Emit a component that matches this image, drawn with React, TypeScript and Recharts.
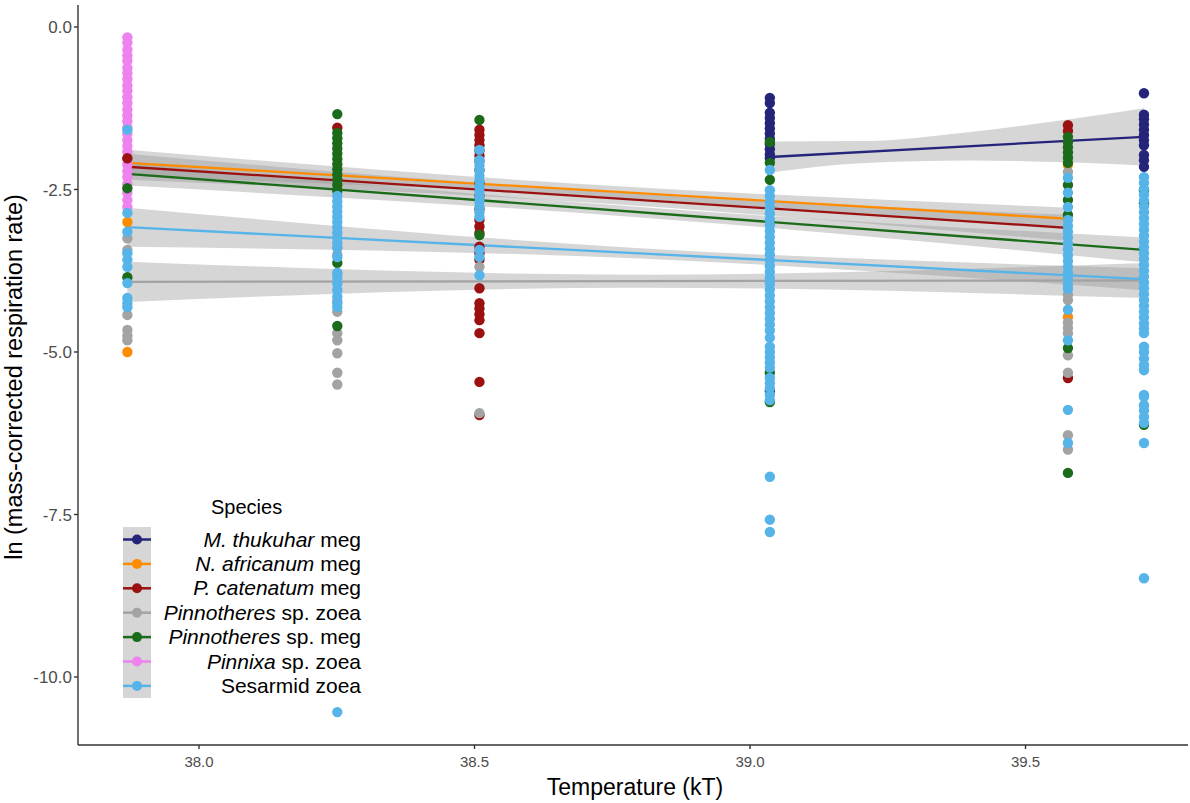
import { ComposedChart, Scatter, Line, Area, XAxis, YAxis } from "recharts";

// temperature columns (kT) where the measurements sit
const tempCols = [37.87, 38.251, 38.509, 39.036, 39.577, 39.715];

// ln respiration values per species, one list per temperature column
const thukuharY = [[], [], [], [-1.09, -1.17, -1.32, -1.4, -1.48, -1.56, -1.64, -1.72, -1.8, -1.88, -1.96, -2.02, -5.6], [], [-1.02, -1.35, -1.42, -1.5, -1.58, -1.66, -1.74, -1.82, -1.97, -2.05, -2.15]];
const africanumY = [[-3.0, -5.0], [], [], [], [-2.12, -4.46], []];
const catenatumY = [[-2.02], [-1.55], [-1.58, -1.66, -1.74, -1.82, -1.9, -1.98, -2.06, -2.2, -2.4, -2.6, -2.8, -2.97, -3.07, -3.17, -3.38, -3.48, -3.58, -4.02, -4.25, -4.33, -4.42, -4.51, -4.71, -5.46, -5.97], [], [-1.51, -1.6, -5.4], []];
const pinnoZoeaY = [[-3.25, -3.43, -4.43, -4.66, -4.75, -4.82], [-2.55, -3.38, -3.5, -3.8, -4.22, -4.38, -4.71, -4.82, -5.02, -5.32, -5.5], [-3.69, -5.94], [], [-2.23, -4.12, -4.2, -4.55, -4.63, -4.71, -5.05, -5.32, -6.28, -6.5], []];
const pinnoMegY = [[-2.48, -3.85], [-1.34, -1.63, -1.71, -1.79, -1.87, -1.95, -2.03, -2.11, -2.19, -2.27, -2.35, -2.43, -2.51, -3.63, -4.6], [-1.43, -3.2], [-1.77, -2.09, -2.35, -5.32, -5.77], [-1.69, -1.77, -1.85, -1.93, -2.01, -2.09, -2.43, -2.66, -2.89, -4.94, -6.86], [-2.51, -2.71, -6.12]];
const pinnixaY = [[-0.16, -0.24, -0.35, -0.44, -0.52, -0.63, -0.71, -0.8, -0.9, -0.98, -1.08, -1.17, -1.27, -1.36, -1.45, -1.55, -1.64, -1.74, -1.83, -1.92, -2.03, -2.12, -2.22, -2.31, -2.42, -2.55, -2.66, -2.77], [], [], [], [], []];
const sesarmidY = [
  [-1.58, -2.86, -3.15, -3.48, -3.58, -3.69, -3.94, -4.17, -4.25, -4.31],
  [-2.6, -2.68, -2.76, -2.84, -2.92, -3.0, -3.08, -3.16, -3.24, -3.32, -3.4, -3.54, -3.78, -3.86, -3.95, -4.05, -4.15, -4.25, -4.31, -10.54],
  [-1.89, -2.05, -2.13, -2.21, -2.29, -2.37, -2.45, -2.53, -2.61, -2.69, -2.77, -2.85, -2.92, -3.43, -3.54, -3.82],
  [-2.2, -2.51, -2.6, -2.69, -2.78, -2.87, -2.96, -3.05, -3.14, -3.23, -3.32, -3.41, -3.5, -3.59, -3.68, -3.77, -3.86, -3.95, -4.04, -4.13, -4.22, -4.31, -4.4, -4.49, -4.58, -4.67, -4.78, -4.92, -5.0, -5.08, -5.16, -5.24, -5.4, -5.48, -5.56, -5.66, -5.74, -6.92, -7.58, -7.77],
  [-2.32, -2.55, -2.77, -2.97, -3.06, -3.15, -3.24, -3.33, -3.42, -3.51, -3.6, -3.69, -3.78, -3.87, -3.96, -4.03, -4.35, -4.82, -5.89, -6.4],
  [-2.31, -2.4, -2.49, -2.58, -2.67, -2.76, -2.85, -2.94, -3.03, -3.12, -3.21, -3.3, -3.39, -3.48, -3.57, -3.66, -3.75, -3.84, -3.93, -4.02, -4.11, -4.2, -4.29, -4.38, -4.47, -4.56, -4.64, -4.71, -4.92, -5.0, -5.1, -5.2, -5.28, -5.66, -5.69, -5.82, -5.9, -6.0, -6.09, -6.4, -8.48],
];

// fitted lines: [x start, x end], [y start, y end]
const thukuharFit = { x: [39.036, 39.715], y: [-2.0, -1.69] };
const africanumFit = { x: [37.87, 39.577], y: [-2.09, -2.95] };
const catenatumFit = { x: [37.87, 39.577], y: [-2.15, -3.09] };
const pinnoZoeaFit = { x: [37.87, 39.715], y: [-3.92, -3.9] };
const pinnoMegFit = { x: [37.87, 39.715], y: [-2.26, -3.43] };
const sesarmidFit = { x: [37.87, 39.715], y: [-3.08, -3.88] };

// confidence band half-widths read at a few temperatures
const thukuharBand = { x: [39.036, 39.2, 39.4, 39.577, 39.715], hw: [0.24, 0.17, 0.22, 0.33, 0.44] };
const africanumBand = { x: [37.87, 38.7, 39.577], hw: [0.2, 0.09, 0.17] };
const catenatumBand = { x: [37.87, 38.7, 39.577], hw: [0.2, 0.09, 0.2] };
const pinnoZoeaBand = { x: [37.87, 38.8, 39.715], hw: [0.31, 0.1, 0.27] };
const pinnoMegBand = { x: [37.87, 38.8, 39.715], hw: [0.18, 0.08, 0.19] };
const sesarmidBand = { x: [37.87, 38.8, 39.715], hw: [0.3, 0.08, 0.17] };

const xTicks = [38, 38.5, 39, 39.5];
const yTicks = [-10, -7.5, -5, -2.5, 0];

const species = [
  { key: "pinnixa", it: "Pinnixa", rest: " sp. zoea", color: "#ee82ee", ys: pinnixaY, fit: null, band: null },
  { key: "thukuhar", it: "M. thukuhar", rest: " meg", color: "#24247a", ys: thukuharY, fit: thukuharFit, band: thukuharBand },
  { key: "africanum", it: "N. africanum", rest: " meg", color: "#ff8c00", ys: africanumY, fit: africanumFit, band: africanumBand },
  { key: "catenatum", it: "P. catenatum", rest: " meg", color: "#9b1010", ys: catenatumY, fit: catenatumFit, band: catenatumBand },
  { key: "pinnoZoea", it: "Pinnotheres", rest: " sp. zoea", color: "#a3a3a3", ys: pinnoZoeaY, fit: pinnoZoeaFit, band: pinnoZoeaBand },
  { key: "pinnoMeg", it: "Pinnotheres", rest: " sp. meg", color: "#1b6b1b", ys: pinnoMegY, fit: pinnoMegFit, band: pinnoMegBand },
  { key: "sesarmid", it: "", rest: "Sesarmid zoea", color: "#56b4e9", ys: sesarmidY, fit: sesarmidFit, band: sesarmidBand },
];

const legendOrder = ["thukuhar", "africanum", "catenatum", "pinnoZoea", "pinnoMeg", "pinnixa", "sesarmid"];

const FONT = "'Liberation Sans', Arial, Helvetica, sans-serif";

function fitAt(fit: { x: number[]; y: number[] }, x: number) {
  const t = (x - fit.x[0]) / (fit.x[1] - fit.x[0]);
  return fit.y[0] + t * (fit.y[1] - fit.y[0]);
}

export default function App() {
  const series = species.map((s) => {
    const pts: { x: number; y: number }[] = [];
    s.ys.forEach((col, i) => col.forEach((y) => pts.push({ x: tempCols[i], y })));
    const line = s.fit ? s.fit.x.map((x, i) => ({ x, y: s.fit!.y[i] })) : null;
    const band = s.band
      ? s.band.x.map((x, i) => {
          const m = fitAt(s.fit!, x);
          return { x, band: [m - s.band!.hw[i], m + s.band!.hw[i]] };
        })
      : null;
    return { ...s, pts, line, bandData: band };
  });

  return (
    <div style={{ position: "absolute", left: 0, top: 0, width: 1190, height: 803, background: "#fff", fontFamily: FONT }}>
      <ComposedChart width={1190} height={803} margin={{ top: 5, right: 2, bottom: 0, left: 0 }}>
        <XAxis
          dataKey="x"
          type="number"
          domain={[37.7804, 39.7949]}
          allowDataOverflow
          ticks={xTicks}
          tickFormatter={(v: number) => v.toFixed(1)}
          height={58}
          tickSize={4}
          tickMargin={7}
          stroke="#333"
          strokeWidth={1.4}
          tick={{ fill: "#4d4d4d", fontSize: 15, fontFamily: FONT }}
        />
        <YAxis
          dataKey="y"
          type="number"
          domain={[-11.046, 0.338]}
          allowDataOverflow
          ticks={yTicks}
          tickFormatter={(v: number) => v.toFixed(1)}
          width={78}
          tickSize={4}
          tickMargin={2}
          stroke="#333"
          strokeWidth={1.4}
          tick={{ fill: "#4d4d4d", fontSize: 17, fontFamily: FONT }}
        />
        {series.map((s) => (
          <Scatter
            key={"p-" + s.key}
            data={s.pts}
            dataKey="y"
            isAnimationActive={false}
            shape={(p: any) => <circle cx={p.cx} cy={p.cy} r={5.2} fill={s.color} />}
          />
        ))}
        {series
          .filter((s) => s.bandData)
          .map((s) => (
            <Area
              key={"b-" + s.key}
              data={s.bandData!}
              dataKey="band"
              type="monotone"
              stroke="none"
              fill="#999999"
              fillOpacity={0.4}
              isAnimationActive={false}
              activeDot={false}
            />
          ))}
        {series
          .filter((s) => s.line)
          .map((s) => (
            <Line
              key={"l-" + s.key}
              data={s.line!}
              dataKey="y"
              type="linear"
              stroke={s.color}
              strokeWidth={2.3}
              dot={false}
              activeDot={false}
              isAnimationActive={false}
            />
          ))}
      </ComposedChart>

      <div
        style={{
          position: "absolute",
          left: 14,
          top: 377,
          transform: "translate(-50%, -50%) rotate(-90deg)",
          whiteSpace: "nowrap",
          fontSize: 23.5,
          color: "#000",
        }}
      >
        ln (mass-corrected respiration rate)
      </div>
      <div
        style={{
          position: "absolute",
          left: 635,
          top: 787,
          transform: "translate(-50%, -50%)",
          whiteSpace: "nowrap",
          fontSize: 23,
          color: "#000",
        }}
      >
        Temperature (kT)
      </div>

      <div style={{ position: "absolute", left: 211, top: 496, fontSize: 20, color: "#000" }}>Species</div>
      <div style={{ position: "absolute", left: 123, top: 527, width: 28, height: 171, background: "#d6d6d6" }} />
      <svg style={{ position: "absolute", left: 123, top: 527 }} width={28} height={171}>
        {legendOrder.map((k, i) => {
          const s = species.find((q) => q.key === k)!;
          const cy = 12.5 + i * 24.4;
          return (
            <g key={k}>
              <line x1={0} x2={28} y1={cy} y2={cy} stroke={s.color} strokeWidth={2.5} />
              <circle cx={14} cy={cy} r={5} fill={s.color} />
            </g>
          );
        })}
      </svg>
      {legendOrder.map((k, i) => {
        const s = species.find((q) => q.key === k)!;
        return (
          <div
            key={"t-" + k}
            style={{
              position: "absolute",
              left: 150,
              width: 211,
              top: 527.5 + i * 24.4,
              height: 24.4,
              lineHeight: "24.4px",
              textAlign: "right",
              fontSize: 21,
              whiteSpace: "nowrap",
              color: "#000",
            }}
          >
            {s.it && <i>{s.it}</i>}
            {s.rest}
          </div>
        );
      })}
    </div>
  );
}
